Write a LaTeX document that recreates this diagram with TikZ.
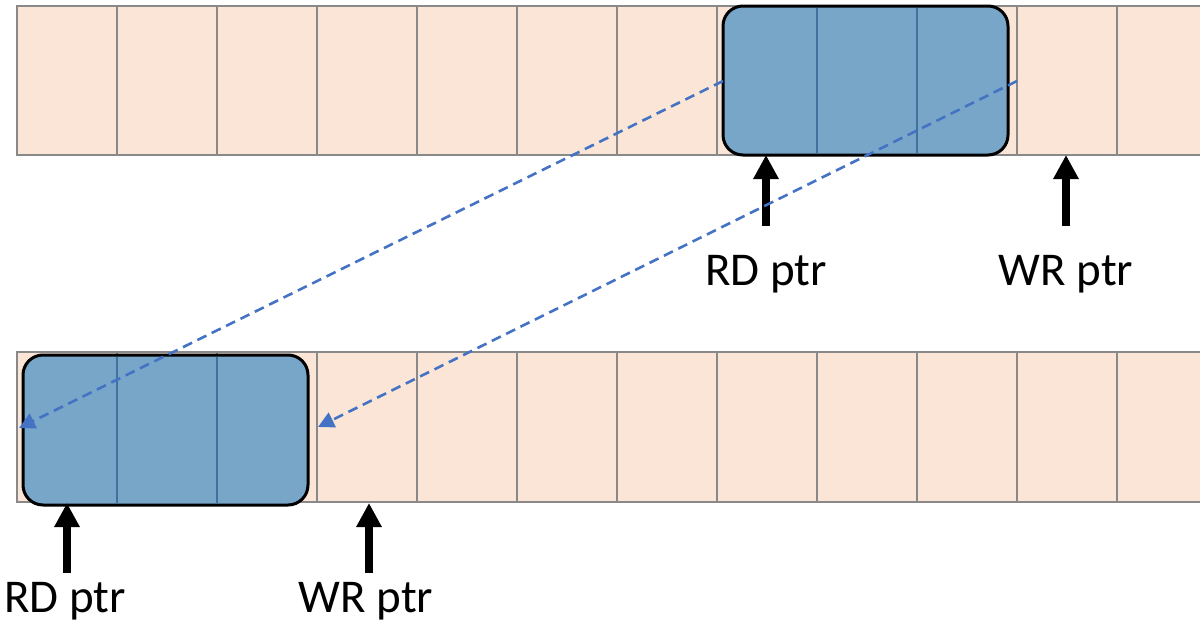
\documentclass[tikz,border=0pt]{standalone}
\usepackage{fontspec}
\setmainfont{Carlito}
\usetikzlibrary{arrows.meta}
\definecolor{cellfill}{HTML}{FBE5D6}
\definecolor{gridgray}{HTML}{898989}
\definecolor{blkfill}{HTML}{77A6C9}
\definecolor{blkline}{HTML}{41719C}
\definecolor{copyblue}{HTML}{4472C4}
\begin{document}
\begin{tikzpicture}[x=1pt,y=-1pt,
  cellrow/.style={fill=cellfill, draw=gridgray, line width=2.6pt},
  gridline/.style={draw=gridgray, line width=2.6pt},
  blkbox/.style={rectangle, fill=blkfill, draw=black, line width=3pt,
    rounded corners=20pt, inner sep=0pt, minimum width=285pt},
  blkdiv/.style={draw=blkline, line width=2.4pt},
  ptrarrow/.style={line width=8pt, -{Triangle[length=24pt,width=24pt]}},
  copyarrow/.style={draw=copyblue, line width=2.6pt, dash pattern=on 10pt off 6pt,
    -{Triangle[length=16pt,width=16pt,fill=copyblue]}},
  ptrlabel/.style={font=\fontsize{47}{56}\selectfont, anchor=base, inner sep=0pt}]
\useasboundingbox (0,0) rectangle (1200,632);
\clip (0,0) rectangle (1200,632);

% two rows of buffer cells
\draw[cellrow] (17,6) rectangle (1217,155);
\draw[cellrow] (17,352) rectangle (1217,502);
\foreach \x in {117,217,...,1117} {
  \draw[gridline] (\x,6) -- (\x,155);
  \draw[gridline] (\x,352) -- (\x,502);
}

% occupied block, before and after the move
\node[blkbox, minimum height=149pt] (blk1) at (865.5,80.5) {};
\draw[blkdiv] (817,7.5) -- (817,153.5);
\draw[blkdiv] (917,7.5) -- (917,153.5);
\node[blkbox, minimum height=150pt] (blk2) at (165.5,430) {};
\draw[blkdiv] (117,356.5) -- (117,503.5);
\draw[blkdiv] (217,356.5) -- (217,503.5);

% read / write pointers
\coordinate (rd1tail) at (766,226);
\coordinate (rd1tip) at (766,155);
\coordinate (wr1tail) at (1066,226);
\coordinate (wr1tip) at (1066,155);
\coordinate (rd2tail) at (67,573);
\coordinate (rd2tip) at (67,503);
\coordinate (wr2tail) at (369,573);
\coordinate (wr2tip) at (369,503);
\draw[ptrarrow] (rd1tail) -- (rd1tip);
\draw[ptrarrow] (wr1tail) -- (wr1tip);
\draw[ptrarrow] (rd2tail) -- (rd2tip);
\draw[ptrarrow] (wr2tail) -- (wr2tip);

\node[ptrlabel] (rd1lbl) at (766,285) {RD ptr};
\node[ptrlabel] (wr1lbl) at (1066,285) {WR ptr};
\node[ptrlabel] (rd2lbl) at (65,612) {RD ptr};
\node[ptrlabel] (wr2lbl) at (366,612) {WR ptr};

% copy paths
\coordinate (cpAstart) at (723,81);
\coordinate (cpAend) at (19,428);
\coordinate (cpBstart) at (1017,81);
\coordinate (cpBend) at (318,427);
\draw[copyarrow] (cpAstart) -- (cpAend);
\draw[copyarrow] (cpBstart) -- (cpBend);
\end{tikzpicture}
\end{document}
